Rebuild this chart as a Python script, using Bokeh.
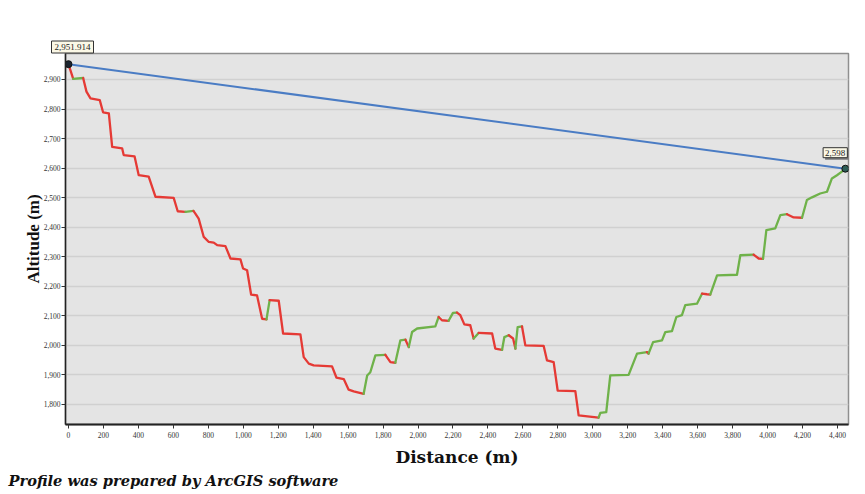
from bokeh.plotting import figure
from bokeh.models import Range1d, NumeralTickFormatter, FixedTicker, Label, Title
from bokeh.embed import file_html
from bokeh.resources import INLINE

distance = [0, 27, 84, 103, 126, 179, 198, 231, 250, 307, 316, 378, 402, 459, 498, 602,
            625, 669, 715, 726, 745, 774, 803, 831, 851, 898, 927, 984, 999, 1022, 1045,
            1079, 1108, 1133, 1151, 1203, 1228, 1327, 1346, 1375, 1403, 1508, 1533, 1575,
            1603, 1632, 1689, 1709, 1727, 1756, 1813, 1842, 1870, 1899, 1928, 1947, 1966,
            1995, 2099, 2118, 2137, 2175, 2200, 2223, 2242, 2265, 2299, 2318, 2347, 2424,
            2442, 2481, 2494, 2519, 2544, 2557, 2570, 2595, 2614, 2719, 2738, 2776, 2799,
            2900, 2919, 3033, 3043, 3077, 3100, 3205, 3253, 3310, 3319, 3345, 3396, 3415,
            3453, 3478, 3510, 3529, 3596, 3625, 3653, 3672, 3711, 3825, 3844, 3920, 3949,
            3974, 3993, 4044, 4073, 4111, 4149, 4197, 4225, 4254, 4301, 4340, 4368, 4397,
            4425, 4445]
altitude = [2951.914, 2902, 2905, 2859, 2836, 2830, 2789, 2785, 2672, 2667, 2644, 2640,
            2576, 2571, 2503, 2499, 2454, 2452, 2455, 2446, 2429, 2367, 2350, 2348, 2339,
            2336, 2294, 2291, 2260, 2254, 2172, 2169, 2090, 2088, 2153, 2151, 2040, 2037,
            1960, 1938, 1932, 1929, 1891, 1886, 1850, 1844, 1836, 1898, 1909, 1966, 1968,
            1943, 1941, 2017, 2019, 1994, 2045, 2057, 2064, 2096, 2085, 2083, 2110, 2111,
            2102, 2071, 2068, 2023, 2042, 2040, 1989, 1985, 2028, 2034, 2023, 1989, 2062,
            2064, 2000, 1998, 1949, 1943, 1847, 1845, 1763, 1755, 1771, 1774, 1898, 1900,
            1972, 1977, 1972, 2011, 2017, 2045, 2048, 2096, 2102, 2136, 2141, 2175, 2173,
            2172, 2237, 2239, 2305, 2307, 2294, 2293, 2390, 2396, 2441, 2444, 2433, 2432,
            2492, 2501, 2514, 2520, 2565, 2576, 2588, 2598]
start_label = "2,951.914"
end_label = "2,598"
caption = "Profile was prepared  by ArcGIS software"
y_ticks = [1800, 1900, 2000, 2100, 2200, 2300, 2400, 2500, 2600, 2700, 2800, 2900]
x_ticks = list(range(0, 4401, 200))

RED = "#e53a35"
GREEN = "#6fb24a"

p = figure(width=862, height=489, output_backend="svg", toolbar_location=None,
           x_range=Range1d(-17, 4463), y_range=Range1d(1732, 2988),
           min_border_left=65, min_border_right=14, min_border_top=53, min_border_bottom=65)
p.background_fill_color = "#e4e4e4"
p.border_fill_color = "white"
p.outline_line_color = "#8f8f8f"
p.outline_line_width = 1.5

p.xgrid.grid_line_color = None
p.ygrid.grid_line_color = "#d0d0d0"
p.ygrid.grid_line_width = 1.5

# group consecutive segments by slope sign
xs, ys, cols = [], [], []
cur_x, cur_y, cur_c = [distance[0]], [altitude[0]], None
for i in range(len(distance) - 1):
    c = GREEN if altitude[i + 1] >= altitude[i] else RED
    if cur_c is None or c == cur_c:
        cur_x.append(distance[i + 1]); cur_y.append(altitude[i + 1]); cur_c = c
    else:
        xs.append(cur_x); ys.append(cur_y); cols.append(cur_c)
        cur_x = [distance[i], distance[i + 1]]; cur_y = [altitude[i], altitude[i + 1]]; cur_c = c
xs.append(cur_x); ys.append(cur_y); cols.append(cur_c)
p.multi_line(xs, ys, line_color=cols, line_width=2.3, line_join="round", line_cap="round")

# straight line of sight
p.line([distance[0], distance[-1]], [altitude[0], altitude[-1]], line_color="#4a7cc4", line_width=2)
p.scatter([distance[0], distance[-1]], [altitude[0], altitude[-1]], size=7,
          fill_color=["#1b2430", "#2c5c55"], line_color="#111111")

# end-point value box (inside the frame)
p.add_layout(Label(x=distance[-1], y=altitude[-1], x_offset=4, y_offset=9, text=end_label,
                   text_align="right", text_baseline="bottom", text_font_size="9px",
                   text_color="#7a7a7a", text_font="Liberation Serif",
                   background_fill_color="#7a7a7a", padding=2))
p.add_layout(Label(x=distance[-1], y=altitude[-1], x_offset=2, y_offset=11, text=end_label,
                   text_align="right", text_baseline="bottom", text_font_size="9px",
                   text_color="#222222", text_font="Liberation Serif",
                   background_fill_color="#fbf8e6", border_line_color="#333333",
                   border_line_width=1, padding=2))

# start-point value box (above the frame)
p.add_layout(Title(text=start_label, align="left", offset=-14, standoff=1,
                   text_font="Liberation Serif", text_font_size="9px",
                   text_font_style="normal", text_color="#222222",
                   background_fill_color="#fbf8e6", border_line_color="#333333",
                   border_line_width=1, padding=3), "above")

# axes
for ax in (p.xaxis, p.yaxis):
    ax.formatter = NumeralTickFormatter(format="0,0")
    ax.major_label_text_font = "Liberation Serif"
    ax.major_label_text_font_size = "7.5px"
    ax.major_label_text_color = "#333333"
    ax.axis_label_text_font_style = "bold"
    ax.axis_label_text_font_size = "17px"
    ax.axis_label_text_color = "#111111"
    ax.major_tick_in = 0
    ax.major_tick_out = 4
    ax.major_tick_line_color = "#333333"
    ax.minor_tick_line_color = None
    ax.axis_line_color = "#222222"
p.xaxis.axis_label_text_font = "DejaVu Serif"
p.yaxis.axis_label_text_font = "Liberation Serif"
p.xaxis.ticker = FixedTicker(ticks=x_ticks)
p.yaxis.ticker = FixedTicker(ticks=y_ticks)
p.xaxis.axis_line_width = 2
p.yaxis.axis_line_width = 1.5
p.xaxis.axis_label = "Distance (m)"
p.yaxis.axis_label = "Altitude (m)"
p.xaxis.major_label_standoff = 3
p.yaxis.major_label_standoff = 1
p.xaxis.axis_label_standoff = 6
p.yaxis.axis_label_standoff = -2

# caption under the chart
p.add_layout(Title(text=caption, align="left", offset=-57, standoff=0,
                   text_font="DejaVu Serif", text_font_style="bold italic",
                   text_font_size="14.6px", text_color="#111111"), "below")

open("out.html", "w").write(file_html(p, INLINE))
